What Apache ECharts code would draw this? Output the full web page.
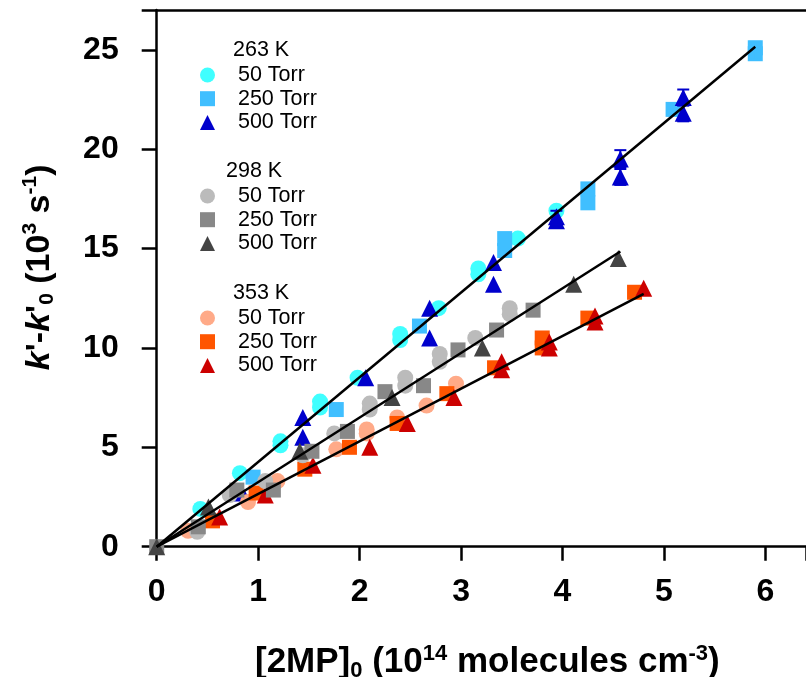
<!DOCTYPE html>
<html><head><meta charset="utf-8">
<script src="https://cdn.jsdelivr.net/npm/echarts@6/dist/echarts.min.js"></script>
<style>html,body{margin:0;padding:0;background:#fff}#c{width:806px;height:677px}</style>
</head><body><div id="c"></div>
<script>
// ---- data ----
const xTicks = [0, 1, 2, 3, 4, 5, 6];
const yTicks = [0, 5, 10, 15, 20, 25];
const temps = ['263 K', '298 K', '353 K'];
const pressures = ['50 Torr', '250 Torr', '500 Torr'];

const s263_50 = [[0.43,1.9],[0.82,3.7],[1.22,5.1],[1.22,5.3],[1.61,7.0],[1.61,7.3],[1.98,8.5],[2.40,10.4],[2.40,10.7],[2.78,12.0],[3.17,13.7],[3.17,14.0],[3.56,15.5],[3.94,16.9]];
const s263_250 = [[0.95,3.5],[1.77,6.9],[2.59,11.1],[3.43,14.9],[3.43,15.5],[4.25,17.3],[4.25,18.0],[5.09,22.0],[5.9,24.8],[5.9,25.1]];
const s263_500 = [[0.84,2.7],[1.44,5.5],[1.44,6.5],[2.06,8.5],[2.69,10.5],[2.69,12.0],[3.32,13.2],[3.32,14.3],[3.94,16.4],[3.94,16.6],[4.57,18.6],[4.57,19.5],[5.19,21.8],[5.19,22.6]];

const s298_50 = [[0.40,0.75],[0.72,2.6],[1.07,3.3],[1.44,4.6],[1.75,5.7],[2.10,6.9],[2.10,7.2],[2.45,8.1],[2.45,8.5],[2.79,9.3],[2.79,9.7],[3.14,10.5],[3.48,11.7],[3.48,12.0]];
const s298_250 = [[0,0],[0.41,1.0],[0.79,2.85],[1.15,2.85],[1.53,4.8],[1.88,5.8],[2.25,7.8],[2.63,8.1],[2.97,9.9],[3.35,10.9],[3.71,11.9]];
const s298_500 = [[0,0],[0.51,2.0],[1.41,4.8],[2.32,7.5],[3.21,10.0],[4.11,13.2],[4.55,14.5]];

const s353_50 = [[0.31,0.8],[0.90,2.25],[1.19,3.3],[1.77,4.9],[2.07,5.7],[2.07,5.9],[2.37,6.5],[2.66,7.1],[2.95,8.2]];
const s353_250 = [[0.55,1.3],[0.98,2.7],[1.46,3.9],[1.90,5.0],[2.37,6.2],[2.86,7.7],[3.33,9.0],[3.80,10.0],[3.80,10.5],[4.25,11.5],[4.71,12.8]];
const s353_500 = [[0.62,1.5],[1.07,2.6],[1.54,4.1],[2.10,5.0],[2.47,6.2],[2.93,7.5],[3.40,8.9],[3.40,9.3],[3.87,10.0],[3.87,10.3],[4.32,11.3],[4.32,11.6],[4.80,13.0]];

// error bars: [x, low, high]
const err263_250 = [[5.9,24.5,25.4]];
const err263_500 = [[4.57,19.1,19.95],[4.57,18.2,19.0],[5.19,22.2,23.0],[5.19,21.4,22.2],[3.94,16.2,16.9]];

// fitted lines
const fit263 = [[0,0],[5.9,25.15]];
const fit298 = [[0,0],[4.57,14.85]];
const fit353 = [[0,0],[4.80,12.72]];

// ---- styles ----
const colors = {
  '263 K': ['#40FFFF', '#40BFFF', '#0000CC'],
  '298 K': ['#BBBBBB', '#888888', '#444444'],
  '353 K': ['#FFAA88', '#FF5500', '#CC0000']
};
const symbols = ['circle', 'rect', 'triangle'];
const sizes = [16, 15, 17];
const dataMap = {
  '263 K': [s263_50, s263_250, s263_500],
  '298 K': [s298_50, s298_250, s298_500],
  '353 K': [s353_50, s353_250, s353_500]
};
const FONT = '"Liberation Sans", Arial, sans-serif';

const series = [];
const drawOrder = ['263 K', '353 K', '298 K'];
drawOrder.forEach((t, ti) => {
  pressures.forEach((p, pi) => {
    series.push({
      type: 'scatter', name: p + ' @' + t,
      data: dataMap[t][pi],
      symbol: symbols[pi], symbolSize: sizes[pi],
      itemStyle: { color: colors[t][pi], opacity: 1 },
      z: 2 + ti, silent: true, clip: false
    });
  });
});

function errSeries(data, color) {
  return {
    type: 'custom', data: data, z: 6, silent: true,
    renderItem: function (params, api) {
      const x = api.value(0), lo = api.value(1), hi = api.value(2);
      const p1 = api.coord([x, lo]), p2 = api.coord([x, hi]);
      const w = 6;
      const st = { stroke: color, lineWidth: 2 };
      return { type: 'group', children: [
        { type: 'line', shape: { x1: p1[0], y1: p1[1], x2: p2[0], y2: p2[1] }, style: st },
        { type: 'line', shape: { x1: p1[0]-w, y1: p1[1], x2: p1[0]+w, y2: p1[1] }, style: st },
        { type: 'line', shape: { x1: p2[0]-w, y1: p2[1], x2: p2[0]+w, y2: p2[1] }, style: st }
      ]};
    },
    encode: { x: 0, y: [1, 2] }
  };
}
series.push(errSeries(err263_250, '#40BFFF'));
series.push(errSeries(err263_500, '#0000CC'));

[fit263, fit298, fit353].forEach(f => {
  series.push({ type: 'line', data: f, symbol: 'none', silent: true,
    lineStyle: { color: '#000', width: 2.5 }, z: 10 });
});

const legendTops = [64, 185, 307];
const legends = temps.map((t, ti) => ({
  orient: 'vertical', left: 200, top: legendTops[ti], padding: 0,
  itemWidth: 15, itemHeight: 15, itemGap: 1.7,
  selectedMode: false,
  data: pressures.map((p, pi) => ({ name: p + ' @' + t, icon: symbols[pi] })),
  formatter: n => '   ' + n.split(' @')[0],
  textStyle: { fontFamily: FONT, fontSize: 21.5, color: '#000' }
}));

const titleLeft = [233, 226, 233];
const titleY = [51, 172, 294];
const graphics = temps.map((t, ti) => ({
  type: 'text', left: titleLeft[ti], top: titleY[ti] - 12,
  style: { text: t, font: '21.5px ' + FONT, fill: '#000' }
}));

const chart = echarts.init(document.getElementById('c'), null, { renderer: 'canvas' });
chart.setOption({
  animation: false,
  backgroundColor: '#fff',
  grid: { left: 156.7, right: 0, top: 10, bottom: 130.3, outerBoundsMode: 'none', containLabel: false },
  legend: legends,
  graphic: graphics,
  xAxis: [{
    type: 'value', min: 0, max: 6.4, interval: 1,
    axisLine: { lineStyle: { color: '#000', width: 2.5 } },
    axisTick: { length: 14, lineStyle: { color: '#000', width: 2.5 } },
    axisLabel: { margin: 29, fontFamily: FONT, fontWeight: 'bold', fontSize: 32, color: '#000',
      formatter: v => xTicks.indexOf(v) >= 0 ? String(v) : '' },
    splitLine: { show: false },
    name: '{b|[2MP]}{sub|0}{b| (10}{sup|14}{b| molecules cm}{sup|-3}{b|)}',
    nameLocation: 'middle', nameGap: 96,
    nameTextStyle: { padding: [0, 0, 0, 12], rich: {
      b: { fontFamily: FONT, fontWeight: 'bold', fontSize: 35, color: '#000' },
      sub: { fontFamily: FONT, fontWeight: 'bold', fontSize: 22, color: '#000', padding: [16, 0, 0, 0] },
      sup: { fontFamily: FONT, fontWeight: 'bold', fontSize: 22, color: '#000', padding: [0, 0, 18, 0] }
    }}
  }, {
    type: 'value', min: 0, max: 6.4, position: 'top',
    axisLine: { show: true, lineStyle: { color: '#000', width: 2.5 } },
    axisTick: { show: false }, axisLabel: { show: false }, splitLine: { show: false }
  }],
  yAxis: {
    type: 'value', min: 0, max: 27, interval: 5,
    axisLine: { show: true, lineStyle: { color: '#000', width: 2.5 } },
    axisTick: { show: true, length: 15, lineStyle: { color: '#000', width: 2.5 } },
    axisLabel: { margin: 38, fontFamily: FONT, fontWeight: 'bold', fontSize: 32, color: '#000',
      formatter: v => yTicks.indexOf(v) >= 0 ? String(v) : '' },
    splitLine: { show: false },
    name: '{i|k}{b|\'-}{i|k}{b|\'}{sub|0}{b| (10}{sup|3}{b| s}{sup|-1}{b|)}',
    nameLocation: 'middle', nameGap: 98, nameRotate: 90,
    nameTextStyle: { padding: [0, 0, 0, 22], rich: {
      b: { fontFamily: FONT, fontWeight: 'bold', fontSize: 34, color: '#000' },
      i: { fontFamily: FONT, fontWeight: 'bold', fontStyle: 'italic', fontSize: 34, color: '#000' },
      sub: { fontFamily: FONT, fontWeight: 'bold', fontSize: 21, color: '#000', padding: [16, 0, 0, 0] },
      sup: { fontFamily: FONT, fontWeight: 'bold', fontSize: 21, color: '#000', padding: [0, 0, 18, 0] }
    }}
  },
  series: series
});
</script>
</body></html>
